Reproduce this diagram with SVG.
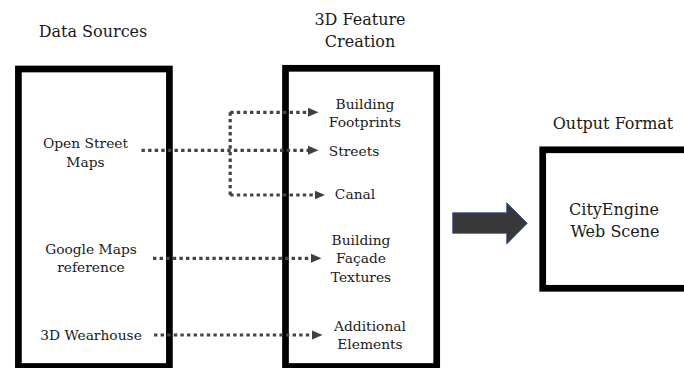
<svg xmlns="http://www.w3.org/2000/svg" width="684" height="368" viewBox="0 0 684 368">
<style>
text{font-family:"DejaVu Serif","Liberation Serif",serif;fill:#1a1a1a;text-anchor:middle}
.h{font-size:16px}
.b{font-size:13.8px}
.box{fill:#fff;stroke:#000;stroke-width:6.7}
.dot{fill:none;stroke:#444;stroke-width:3.2;stroke-dasharray:3.4 3.2}
</style>
<defs>
<marker id="ah" markerUnits="userSpaceOnUse" markerWidth="11" markerHeight="10" refX="0" refY="5" orient="auto">
<path d="M0,0.5 L10.5,5 L0,9.5 z" fill="#404040"/>
</marker>
</defs>
<rect width="684" height="368" fill="#fff"/>
<g id="titles">
<text class="h" x="93" y="37">Data Sources</text>
<text class="h" x="360" y="25">3D Feature</text>
<text class="h" x="360" y="46.5">Creation</text>
<text class="h" x="613" y="129">Output Format</text>
</g>
<g id="data-sources">
<rect class="box" x="18.4" y="69" width="151" height="297.5"/>
<text class="b" x="85.5" y="148">Open Street</text>
<text class="b" x="85.5" y="166.5">Maps</text>
<text class="b" x="91" y="254">Google Maps</text>
<text class="b" x="91" y="272">reference</text>
<text class="b" x="91" y="340">3D Wearhouse</text>
</g>
<g id="feature-creation">
<rect class="box" x="285.5" y="68.3" width="151.2" height="298.2"/>
<text class="b" x="365" y="109">Building</text>
<text class="b" x="365" y="126.5">Footprints</text>
<text class="b" x="354" y="156">Streets</text>
<text class="b" x="355" y="199.3">Canal</text>
<text class="b" x="361" y="245">Building</text>
<text class="b" x="361" y="263.3">Façade</text>
<text class="b" x="361" y="281.5">Textures</text>
<text class="b" x="370" y="330.7">Additional</text>
<text class="b" x="370" y="349">Elements</text>
</g>
<g id="output-format">
<rect class="box" x="542.7" y="149.8" width="160" height="138.5"/>
<text class="h" x="614" y="215">CityEngine</text>
<text class="h" x="615" y="236.5">Web Scene</text>
</g>
<g id="connectors">
<path class="dot" d="M141.5,150.3 H308" marker-end="url(#ah)"/>
<path class="dot" d="M230.2,112.3 V195"/>
<path class="dot" d="M230.2,112.3 H308" marker-end="url(#ah)"/>
<path class="dot" d="M230.2,195 H314.5" marker-end="url(#ah)"/>
<path class="dot" d="M153,258.3 H311" marker-end="url(#ah)"/>
<path class="dot" d="M154,335 H312" marker-end="url(#ah)"/>
<path id="big-arrow" d="M452.7,212.7 H506.7 V202.7 L527.3,223.3 L506.7,244 V233.3 H452.7 z" fill="#383838" stroke="#2f4f8f" stroke-width="0.8"/>
</g>
</svg>
